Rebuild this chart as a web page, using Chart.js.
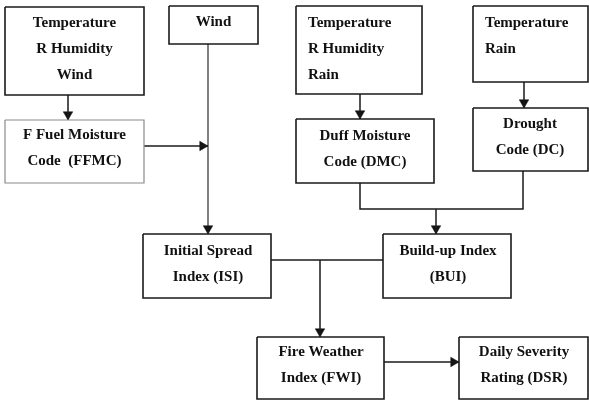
<!DOCTYPE html>
<html>
<head>
<meta charset="utf-8">
<script src="https://cdn.jsdelivr.net/npm/chart.js@4.4.0/dist/chart.umd.min.js"></script>
<style>
  html, body { margin: 0; padding: 0; background: #fff; }
  #wrap { width: 589px; height: 400px; position: relative; }
</style>
</head>
<body>
<div id="wrap"><canvas id="flow"></canvas></div>
<script>
// node texts (one entry per box)
const nodeLabels = [
  ['Temperature', 'R Humidity', 'Wind'],
  ['Wind'],
  ['F Fuel Moisture', 'Code  (FFMC)'],
  ['Temperature', 'R Humidity', 'Rain'],
  ['Duff Moisture', 'Code (DMC)'],
  ['Temperature', 'Rain'],
  ['Drought', 'Code (DC)'],
  ['Initial Spread', 'Index (ISI)'],
  ['Build-up Index', '(BUI)'],
  ['Fire Weather', 'Index (FWI)'],
  ['Daily Severity', 'Rating (DSR)'],
];

// box corners in diagram units [x0, y0, x1, y1]
const nodeBoxes = [
  [5, 7, 144, 95],
  [169, 6, 258, 44],
  [5, 120, 144, 183],
  [296, 6, 422, 94],
  [296, 119, 434, 183],
  [473, 6, 588, 82],
  [473, 108, 588, 171],
  [143, 234, 271, 298],
  [383, 234, 511, 298],
  [257, 337, 384, 399],
  [459, 337, 588, 399],
];

// text anchor: [x, first line y, align]
const nodeText = [
  [74.5, 23, 'center'],
  [213.5, 22, 'center'],
  [74.5, 135, 'center'],
  [308, 23, 'left'],
  [365, 136, 'center'],
  [485, 23, 'left'],
  [530, 124, 'center'],
  [208, 251, 'center'],
  [448, 251, 'center'],
  [321, 352, 'center'],
  [524, 352, 'center'],
];
const lineGap = 26;

// connectors: list of points, and whether the last point carries an arrow head
const links = [
  { pts: [[68, 95], [68, 120]], arrow: true },
  { pts: [[144, 146], [208, 146]], arrow: true },
  { pts: [[208, 44], [208, 234]], arrow: true, thin: true },
  { pts: [[360, 94], [360, 119]], arrow: true },
  { pts: [[524, 82], [524, 108]], arrow: true },
  { pts: [[360, 183], [360, 209], [523, 209], [523, 171]], arrow: false },
  { pts: [[436, 209], [436, 234]], arrow: true },
  { pts: [[271, 260], [383, 260]], arrow: false },
  { pts: [[320, 260], [320, 337]], arrow: true },
  { pts: [[384, 362], [459, 362]], arrow: true },
];

const headR = 5.5;

const datasets = [];

nodeBoxes.forEach((b, i) => {
  datasets.push({
    data: [
      { x: b[0], y: b[1] }, { x: b[2], y: b[1] }, { x: b[2], y: b[3] },
      { x: b[0], y: b[3] }, { x: b[0], y: b[1] },
    ],
    showLine: true,
    borderColor: i === 2 ? '#8a8a8a' : '#1a1a1a',
    borderWidth: i === 2 ? 1.2 : 1.6,
    borderJoinStyle: 'miter',
    pointRadius: 0,
    pointHoverRadius: 0,
    tension: 0,
  });
});

const heads = [], headRot = [];
links.forEach(l => {
  datasets.push({
    data: l.pts.map(p => ({ x: p[0], y: p[1] })),
    showLine: true,
    borderColor: '#1a1a1a',
    borderWidth: l.thin ? 1.1 : 1.5,
    borderJoinStyle: 'miter',
    pointRadius: 0,
    pointHoverRadius: 0,
    tension: 0,
  });
  if (l.arrow) {
    const a = l.pts[l.pts.length - 2], b = l.pts[l.pts.length - 1];
    const dx = Math.sign(b[0] - a[0]), dy = Math.sign(b[1] - a[1]);
    heads.push({ x: b[0] - dx * headR, y: b[1] - dy * headR });
    headRot.push(dx > 0 ? 90 : dx < 0 ? 270 : dy > 0 ? 180 : 0);
  }
});

datasets.push({
  data: heads,
  showLine: false,
  pointStyle: 'triangle',
  pointRadius: headR,
  pointHoverRadius: headR,
  pointRotation: headRot,
  backgroundColor: '#111',
  borderColor: '#111',
  borderWidth: 0.5,
});

const labelPlugin = {
  id: 'boxLabels',
  afterDatasetsDraw(chart) {
    const { ctx, scales: { x, y } } = chart;
    ctx.save();
    ctx.fillStyle = '#111';
    ctx.font = 'bold 15px "Liberation Serif", "Times New Roman", serif';
    ctx.textBaseline = 'middle';
    nodeLabels.forEach((lines, i) => {
      const [tx, ty, align] = nodeText[i];
      ctx.textAlign = align;
      lines.forEach((s, k) => {
        ctx.fillText(s, x.getPixelForValue(tx), y.getPixelForValue(ty + k * lineGap));
      });
    });
    ctx.restore();
  }
};

new Chart(document.getElementById('flow'), {
  type: 'scatter',
  data: { datasets },
  options: {
    responsive: true,
    maintainAspectRatio: false,
    animation: false,
    layout: { padding: 0, autoPadding: false },
    plugins: { legend: { display: false }, tooltip: { enabled: false } },
    scales: {
      x: { type: 'linear', min: 0, max: 589, display: false },
      y: { type: 'linear', min: 0, max: 400, reverse: true, display: false },
    },
  },
  plugins: [labelPlugin],
});
</script>
</body>
</html>
